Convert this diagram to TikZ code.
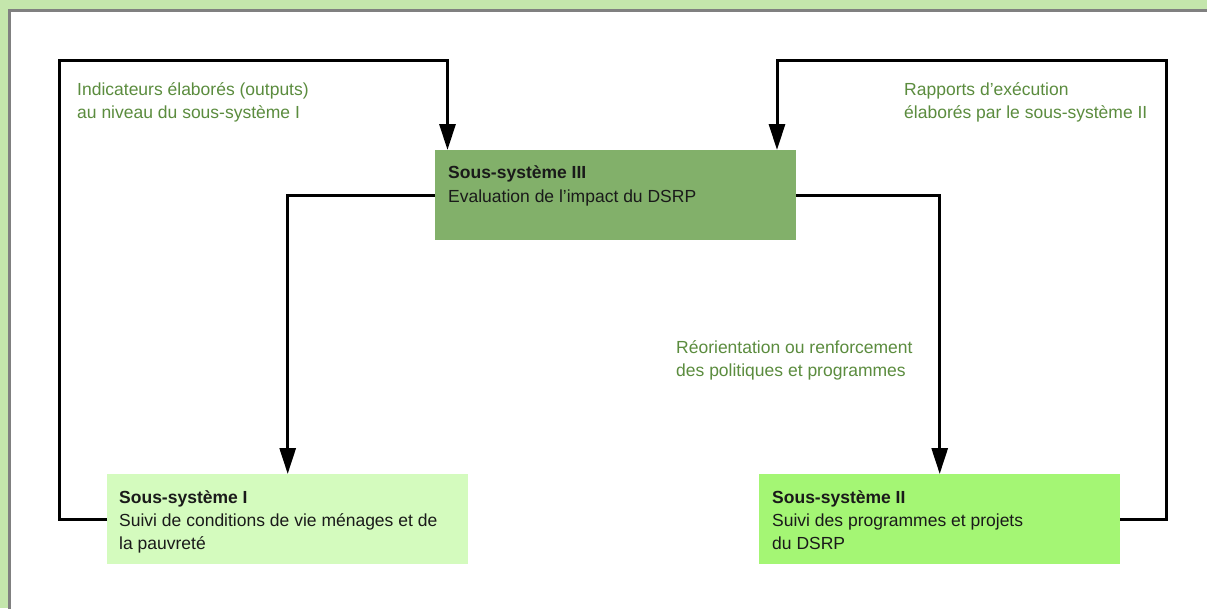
\documentclass[tikz,border=0pt]{standalone}
\usepackage{fontspec}
\setmainfont{Liberation Sans}
\usetikzlibrary{arrows.meta}
\definecolor{bgc}{HTML}{C4E6AC}
\definecolor{framec}{HTML}{808080}
\definecolor{sthree}{HTML}{82B06A}
\definecolor{sone}{HTML}{D4FBBE}
\definecolor{stwo}{HTML}{A4F674}
\definecolor{greentxt}{HTML}{5B8C3E}
\definecolor{boxtxt}{HTML}{1A1A1A}
\tikzset{
  sysbox/.style={draw=none, rectangle, minimum width=361pt, minimum height=90pt, inner sep=0pt, anchor=north west},
  conn/.style={line width=3pt, black},
  arr/.style={conn, -{Triangle[width=16pt,length=26pt]}},
  lbl/.style={anchor=base west, inner sep=0pt, text=greentxt, font=\fontsize{17.5}{24}\selectfont},
  btxt/.style={anchor=base west, inner sep=0pt, text=boxtxt, font=\fontsize{17.5}{24}\selectfont},
  btitle/.style={btxt, font=\fontsize{17.5}{24}\selectfont\bfseries}
}
\begin{document}
\begin{tikzpicture}[x=1pt,y=-1pt]
\useasboundingbox (0,0) rectangle (1207,608);
\clip (0,0) rectangle (1207,608);
\fill[bgc] (0,0) rectangle (1207,608);
\filldraw[fill=white, draw=framec, line width=3pt] (9.5,10.5) rectangle (1230,630);
% boxes
\node[sysbox, fill=sthree] (s3) at (435,150) {};
\node[sysbox, fill=sone] (s1) at (107,474) {};
\node[sysbox, fill=stwo] (s2) at (759,474) {};
% box texts
\node[btitle] (t3a) at (448,178) {Sous-système III};
\node[btxt] (t3b) at (448,202) {Evaluation de l’impact du DSRP};
\node[btitle] (t1a) at (119,503) {Sous-système I};
\node[btxt] (t1b) at (119,526) {Suivi de conditions de vie ménages et de};
\node[btxt] (t1c) at (119,549) {la pauvreté};
\node[btitle] (t2a) at (772,503) {Sous-système II};
\node[btxt] (t2b) at (772,526) {Suivi des programmes et projets};
\node[btxt] (t2c) at (772,549) {du DSRP};
% green labels
\node[lbl] (la) at (77,95) {Indicateurs élaborés (outputs)};
\node[lbl] (lb) at (77,118) {au niveau du sous-système I};
\node[lbl] (ra) at (904,95) {Rapports d’exécution};
\node[lbl] (rb) at (904,118) {élaborés par le sous-système II};
\node[lbl] (ma) at (676,353) {Réorientation ou renforcement};
\node[lbl] (mb) at (676,376) {des politiques et programmes};
% corner coordinates
\coordinate (cl) at (59.5,60.5);
\coordinate (cr) at (1166,60.5);
\coordinate (inl) at (447.5,150);
\coordinate (inr) at (777,150);
% connectors
\draw[arr] (s1.west) -| (cl) -| (inl);
\draw[arr] (s2.east) -| (cr) -| (inr);
\draw[arr] (s3.west) -| (s1.north);
\draw[arr] (s3.east) -| (s2.north);
\end{tikzpicture}
\end{document}
